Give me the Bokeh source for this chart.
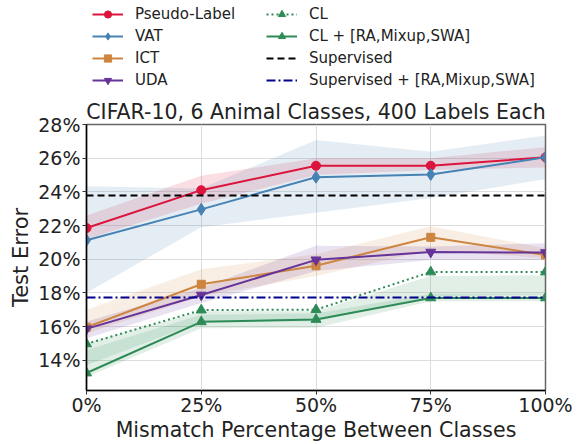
from bokeh.plotting import figure
from bokeh.layouts import column
from bokeh.models import Legend, LegendItem, FixedTicker, PrintfTickFormatter, Range1d, Title
from bokeh.embed import file_html
from bokeh.resources import INLINE

FONT = "DejaVu Sans"

mismatch = [0, 25, 50, 75, 100]

pl = [21.85, 24.1, 25.55, 25.55, 26.05]
pl_lo = [21.2, 23.3, 25.0, 25.3, 25.45]
pl_hi = [22.6, 24.95, 26.0, 26.0, 26.65]

vat = [21.12, 22.96, 24.87, 25.03, 26.05]
vat_lo = [18.0, 21.9, 22.76, 23.63, 24.76]
vat_hi = [24.33, 24.2, 27.08, 26.38, 27.35]

ict = [15.96, 18.51, 19.61, 21.3, 20.25]
ict_lo = [15.6, 17.8, 19.0, 20.55, 20.05]
ict_hi = [17.0, 19.4, 20.3, 21.95, 20.65]

uda = [15.86, 17.87, 19.96, 20.42, 20.39]
uda_lo = [15.3, 17.4, 19.3, 19.95, 19.95]
uda_hi = [16.3, 18.3, 20.8, 20.75, 20.95]

cl = [14.97, 16.98, 17.0, 19.24, 19.24]
cl_lo = [13.7, 16.3, 16.3, 17.8, 17.9]
cl_hi = [15.0, 16.9, 16.9, 19.0, 19.05]

clp = [13.24, 16.28, 16.42, 17.7, 17.7]
clp_lo = [13.0, 15.9, 15.93, 17.5, 17.5]
clp_hi = [14.6, 16.7, 16.77, 17.95, 17.95]

supervised = 23.79
supervised_plus = 17.72

y_ticks = [14, 16, 18, 20, 22, 24, 26, 28]

series = [
    ("Pseudo-Label", pl, pl_lo, pl_hi, "#DC143C", "circle", 9, "solid"),
    ("VAT", vat, vat_lo, vat_hi, "#4682B4", "diamond", 12, "solid"),
    ("ICT", ict, ict_lo, ict_hi, "#CD853F", "square", 8, "solid"),
    ("UDA", uda, uda_lo, uda_hi, "#663399", "inverted_triangle", 10, "solid"),
    ("CL", cl, cl_lo, cl_hi, "#2E8B57", "triangle", 10, "2 3"),
    ("CL + [RA,Mixup,SWA]", clp, clp_lo, clp_hi, "#2E8B57", "triangle", 10, "solid"),
]
refs = [
    ("Supervised", supervised, "black", "7 4"),
    ("Supervised + [RA,Mixup,SWA]", supervised_plus, "#00008B", "9 3 2 3"),
]

LEG_H = 95
W = 580
H = 444

# ---- main plot ----
p = figure(width=W, height=H - LEG_H, output_backend="svg", toolbar_location=None,
           x_range=Range1d(0, 100), y_range=Range1d(12.2, 28.0),
           min_border_left=86, min_border_right=35, min_border_top=29, min_border_bottom=0)
p.title = None

for name, y, lo, hi, col, mk, sz, dash in series:
    p.varea(x=mismatch, y1=lo, y2=hi, fill_color=col, fill_alpha=0.14)

for name, y, lo, hi, col, mk, sz, dash in series:
    p.line(mismatch, y, line_color=col, line_width=2, line_dash=dash)
    p.scatter(mismatch, y, marker=mk, size=sz, fill_color=col, line_color=col)

for name, val, col, dash in refs:
    p.line(mismatch, [val] * len(mismatch), line_color=col, line_width=2, line_dash=dash)

title = Title(text="CIFAR-10, 6 Animal Classes, 400 Labels Each", align="center",
              text_font=FONT, text_font_size="20.5px", text_font_style="normal",
              text_color="#222222", standoff=1)
p.add_layout(title, "above")

p.xaxis.ticker = FixedTicker(ticks=mismatch)
p.yaxis.ticker = FixedTicker(ticks=y_ticks)
p.xaxis.formatter = PrintfTickFormatter(format="%d%%")
p.yaxis.formatter = PrintfTickFormatter(format="%d%%")
for ax in (p.xaxis, p.yaxis):
    ax.major_label_text_font = FONT
    ax.major_label_text_font_size = "19px"
    ax.major_label_text_color = "#222222"
    ax.axis_label_text_font = FONT
    ax.axis_label_text_font_style = "normal"
    ax.axis_label_text_color = "#222222"
    ax.axis_line_color = "black"
    ax.axis_line_width = 1.5
    ax.major_tick_line_color = "#333333"
    ax.major_tick_out = 4
    ax.major_tick_in = 0
    ax.minor_tick_line_color = None
p.xaxis.axis_label = "Mismatch Percentage Between Classes"
p.yaxis.axis_label = "Test Error"
p.xaxis.axis_label_text_font_size = "20.5px"
p.yaxis.axis_label_text_font_size = "21px"
p.xaxis.major_label_standoff = -1
p.xaxis.axis_label_standoff = -1
p.yaxis.major_label_standoff = 2
p.yaxis.axis_label_standoff = 2

p.grid.grid_line_color = "#dddddd"
p.grid.grid_line_width = 1
p.outline_line_color = "#666666"
p.outline_line_width = 1.5
p.background_fill_color = "white"
p.border_fill_color = "white"

# ---- legend strip (renderers kept outside its visible range) ----
lf = figure(width=W, height=LEG_H, output_backend="svg", toolbar_location=None,
            x_range=Range1d(-20, -10), y_range=Range1d(0, 1),
            min_border=0)
lf.axis.visible = False
lf.grid.visible = False
lf.outline_line_color = None
lf.title = None

items = []
for name, y, lo, hi, col, mk, sz, dash in series:
    ln = lf.line(mismatch, y, line_color=col, line_width=2, line_dash=dash)
    sc = lf.scatter(mismatch, y, marker=mk, size=sz, fill_color=col, line_color=col)
    items.append(LegendItem(label=name, renderers=[ln, sc]))
for name, val, col, dash in refs:
    ln = lf.line(mismatch, [val] * len(mismatch), line_color=col, line_width=2, line_dash=dash)
    items.append(LegendItem(label=name, renderers=[ln]))

common = dict(label_text_font=FONT, label_text_font_size="15px", label_text_color="#222222",
              glyph_width=31, glyph_height=18, spacing=4, label_standoff=12,
              border_line_color=None, background_fill_alpha=0, padding=0, margin=0,
              label_height=18)
lf.add_layout(Legend(items=items[:4], location=(6, 6), **common), "center")
lf.add_layout(Legend(items=items[4:], location=(180, 6), **common), "center")

open("out.html", "w").write(file_html(column(lf, p, spacing=0), INLINE))
